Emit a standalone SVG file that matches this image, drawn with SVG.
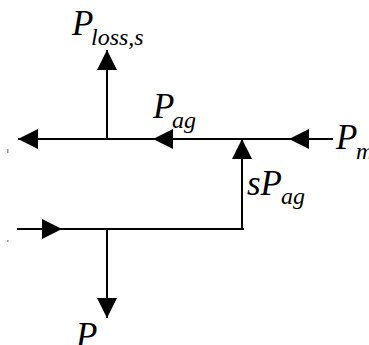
<svg xmlns="http://www.w3.org/2000/svg" width="369" height="345" viewBox="0 0 369 345">
<style>
.ln{fill:none;stroke:#000;stroke-width:2}
.t{font-family:"Liberation Serif","Times New Roman",serif;font-style:italic;fill:#000}
.m{font-size:35px}
.s{font-size:24px}
</style>
<defs>
<marker id="ah" viewBox="0 0 20 20" refX="20" refY="10" markerWidth="20" markerHeight="20" markerUnits="userSpaceOnUse" orient="auto">
<path d="M0,0 L20,10 L0,20 Z" fill="#000"/>
</marker>
</defs>
<rect width="369" height="345" fill="#fff"/>
<g id="connectors">
<path class="ln" d="M333,139 H289" marker-end="url(#ah)"/>
<path class="ln" d="M289,139 H153" marker-end="url(#ah)"/>
<path class="ln" d="M153,139 H18" marker-end="url(#ah)"/>
<path class="ln" d="M107,139 V50" marker-end="url(#ah)"/>
<path class="ln" d="M242,229 V139" marker-end="url(#ah)"/>
<path class="ln" d="M17,229 H62" marker-end="url(#ah)"/>
<path class="ln" d="M62,229 H243 V228"/>
<path class="ln" d="M107,229 V318" marker-end="url(#ah)"/>
</g>
<g id="label-ploss"><text class="t" y="35"><tspan class="m" x="72">P</tspan><tspan class="s" x="91" y="45">loss,s</tspan></text></g>
<g id="label-pag"><text class="t" y="118"><tspan class="m" x="153">P</tspan><tspan class="s" x="172" y="128">ag</tspan></text></g>
<g id="label-pm"><text class="t" y="149"><tspan class="m" x="336">P</tspan><tspan class="s" x="356" y="159">m</tspan></text></g>
<g id="label-spag"><text class="t" y="195"><tspan class="m" x="247">sP</tspan><tspan class="s" x="281" y="204">ag</tspan></text></g>
<g id="label-pbottom"><text class="t m" x="76" y="347">P</text></g>
<rect x="7" y="149" width="1.5" height="4" fill="#999"/>
<rect x="7" y="240" width="1.5" height="2" fill="#999"/>
</svg>
